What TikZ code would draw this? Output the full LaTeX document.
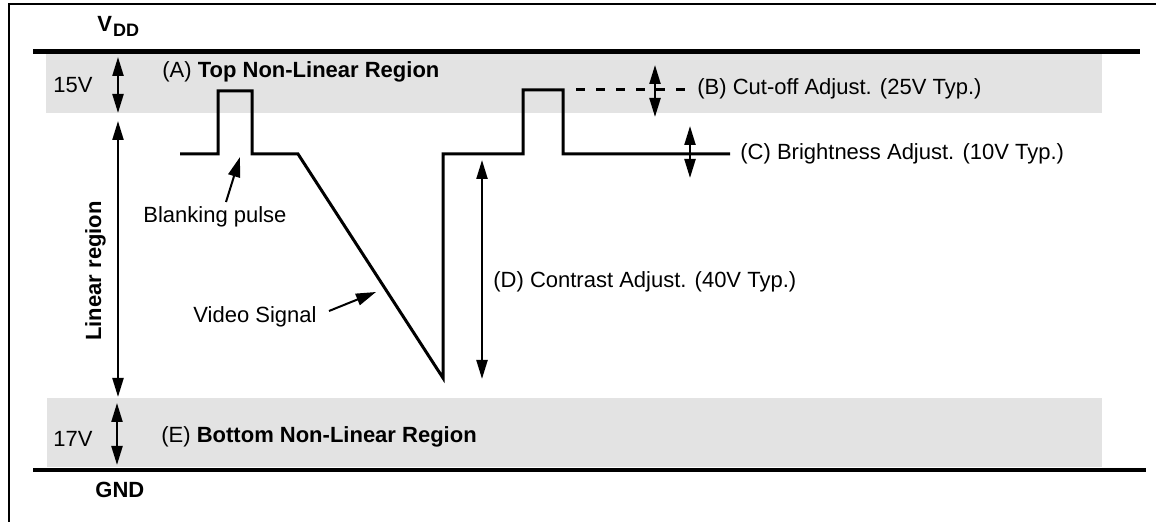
\documentclass[tikz,border=0pt]{standalone}
\usepackage{fontspec}
\setmainfont{Liberation Sans}
\usetikzlibrary{arrows.meta}
\definecolor{bandgray}{HTML}{E3E3E3}
\begin{document}
\begin{tikzpicture}[x=0.5pt,y=-0.5pt,
  lbl/.style={anchor=base west,inner sep=0pt,font=\fontsize{11}{13}\selectfont},
  sig/.style={line width=1.5pt,line join=miter},
  dimarrow/.style={line width=1.1pt,{Triangle[length=9.5pt,width=5.5pt]}-{Triangle[length=9.5pt,width=5.5pt]}},
  ptr/.style={line width=1pt,-{Triangle[length=10pt,width=6pt]}},
  rail/.style={line width=2.4pt},
  band/.style={fill=bandgray,draw=none},
  frameline/.style={line width=1.2pt}]
\useasboundingbox (0,0) rectangle (1156,522);
% frame
\draw[frameline] (9,530) -- (9,4) -- (1165,4);
% bands
\fill[band] (46,54) rectangle (1102,113);
\fill[band] (47,398) rectangle (1102,467);
% rails
\draw[rail] (33,51.5) -- (1140,51.5);
\draw[rail] (33,470) -- (1146,470);
% labels
\node[lbl] (vdd) at (97,32) {\textbf{V\kern0.5pt\raisebox{-2.5pt}{\fontsize{9}{10}\selectfont DD}}};
\node[lbl] (gnd) at (95,498) {\textbf{GND}};
\node[lbl] (v15) at (53,93) {15V};
\node[lbl] (v17) at (53,447) {17V};
\node[lbl] (regA) at (162,78) {(A) \textbf{Top Non-Linear Region}};
\node[lbl] (regE) at (161,443) {(E) \textbf{Bottom Non-Linear Region}};
\node[lbl] (adjB) at (697,95) {(B) Cut-off Adjust. (25V Typ.)};
\node[lbl] (adjC) at (740,160) {(C) Brightness Adjust. (10V Typ.)};
\node[lbl] (adjD) at (493,288) {(D) Contrast Adjust. (40V Typ.)};
\node[lbl] (blank) at (143,223) {Blanking pulse};
\node[lbl] (video) at (193,323) {Video Signal};
\node[anchor=base,inner sep=0pt,rotate=90,font=\fontsize{11}{13}\selectfont\bfseries] (lin) at (101,271) {Linear region};
% signal
\draw[sig] (180,154) -- (218,154) -- (218,91) -- (252,91) -- (252,154) -- (298,154)
  -- (443,378) -- (443,154) -- (523,154) -- (523,90) -- (563,90) -- (563,154) -- (730,154);
\draw[line width=1.5pt,dash pattern=on 4.5pt off 5.5pt,dash phase=4.5pt] (565,90) -- (692,90);
% dimension arrows
\coordinate (a15t) at (118,57);  \coordinate (a15b) at (118,113);
\coordinate (alint) at (118,121); \coordinate (alinb) at (118,397);
\coordinate (a17t) at (117,403); \coordinate (a17b) at (117,465);
\coordinate (aBt) at (655,65);   \coordinate (aBb) at (655,117);
\coordinate (aCt) at (690,126);  \coordinate (aCb) at (690,178);
\coordinate (aDt) at (482,160);  \coordinate (aDb) at (482,379);
\draw[dimarrow] (a15t) -- (a15b);
\draw[dimarrow] (alint) -- (alinb);
\draw[dimarrow] (a17t) -- (a17b);
\draw[dimarrow] (aBt) -- (aBb);
\draw[dimarrow] (aCt) -- (aCb);
\draw[dimarrow] (aDt) -- (aDb);
% pointers
\coordinate (pbt) at (226,202); \coordinate (pbh) at (240,157);
\coordinate (pvt) at (329,311); \coordinate (pvh) at (376,292);
\draw[ptr] (pbt) -- (pbh);
\draw[ptr] (pvt) -- (pvh);
\end{tikzpicture}
\end{document}
